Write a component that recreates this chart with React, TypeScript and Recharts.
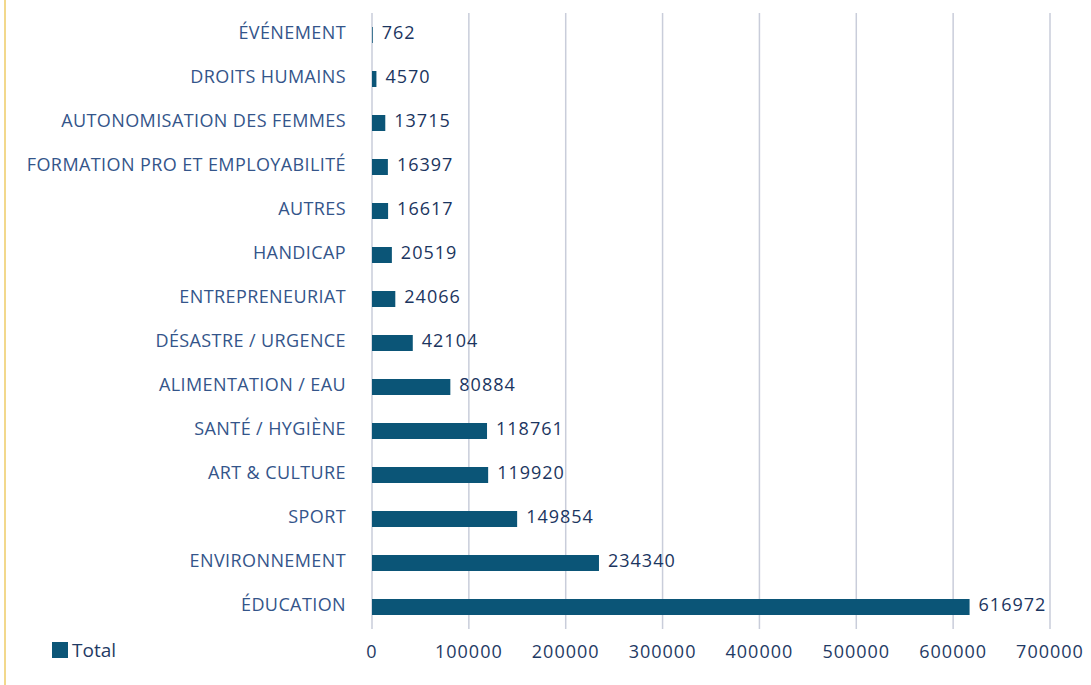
import React from "react";
import { BarChart, Bar, XAxis, YAxis, CartesianGrid, LabelList } from "recharts";

const categories = [
  "ÉVÉNEMENT",
  "DROITS HUMAINS",
  "AUTONOMISATION DES FEMMES",
  "FORMATION PRO ET EMPLOYABILITÉ",
  "AUTRES",
  "HANDICAP",
  "ENTREPRENEURIAT",
  "DÉSASTRE / URGENCE",
  "ALIMENTATION / EAU",
  "SANTÉ / HYGIÈNE",
  "ART & CULTURE",
  "SPORT",
  "ENVIRONNEMENT",
  "ÉDUCATION",
];

const totals = [762, 4570, 13715, 16397, 16617, 20519, 24066, 42104, 80884, 118761, 119920, 149854, 234340, 616972];

const xTicks = [0, 100000, 200000, 300000, 400000, 500000, 600000, 700000];

const data = categories.map((name, i) => ({ name, Total: totals[i] }));

const FONT = "'Open Sans', Lato, sans-serif";
const BAR = "#0b5577";

export default function App() {
  return (
    <div style={{ position: "absolute", left: 0, top: 0, width: 1091, height: 685, background: "#ffffff" }}>
      <div style={{ position: "absolute", left: 4, top: 0, width: 2, height: 685, background: "#f2d88c" }} />
      <BarChart
        width={1091}
        height={685}
        data={data}
        layout="vertical"
        margin={{ top: 13, right: 41, bottom: 26, left: 0 }}
        barSize={16}
      >
        <CartesianGrid horizontal={false} stroke="#c9cdda" strokeWidth={1.5} />
        <XAxis
          type="number"
          domain={[0, 700000]}
          ticks={xTicks}
          axisLine={false}
          tickLine={false}
          tickSize={0}
          tickMargin={16}
          height={30}
          tick={{ fill: "#1f3a64", fontSize: 18, fontFamily: FONT, letterSpacing: 1 }}
        />
        <YAxis
          type="category"
          dataKey="name"
          width={372}
          axisLine={false}
          tickLine={false}
          tickSize={0}
          tickMargin={26}
          interval={0}
          tick={{ fill: "#34558a", fontSize: 18, fontFamily: FONT, letterSpacing: 0.4, dy: -2 }}
        />
        <Bar dataKey="Total" fill={BAR} isAnimationActive={false}>
          <LabelList
            dataKey="Total"
            position="right"
            offset={9}
            dy={-2}
            style={{ fill: "#1b3560", fontSize: 18, fontFamily: FONT, fontWeight: 500, letterSpacing: 1 }}
          />
        </Bar>
      </BarChart>
      <div
        style={{
          position: "absolute",
          left: 52,
          top: 638,
          display: "flex",
          alignItems: "center",
          fontFamily: FONT,
          fontSize: 19,
          color: "#1f3a64",
          lineHeight: "24px",
        }}
      >
        <span style={{ display: "inline-block", width: 16, height: 16, background: BAR, marginRight: 4 }} />
        <span>Total</span>
      </div>
    </div>
  );
}
